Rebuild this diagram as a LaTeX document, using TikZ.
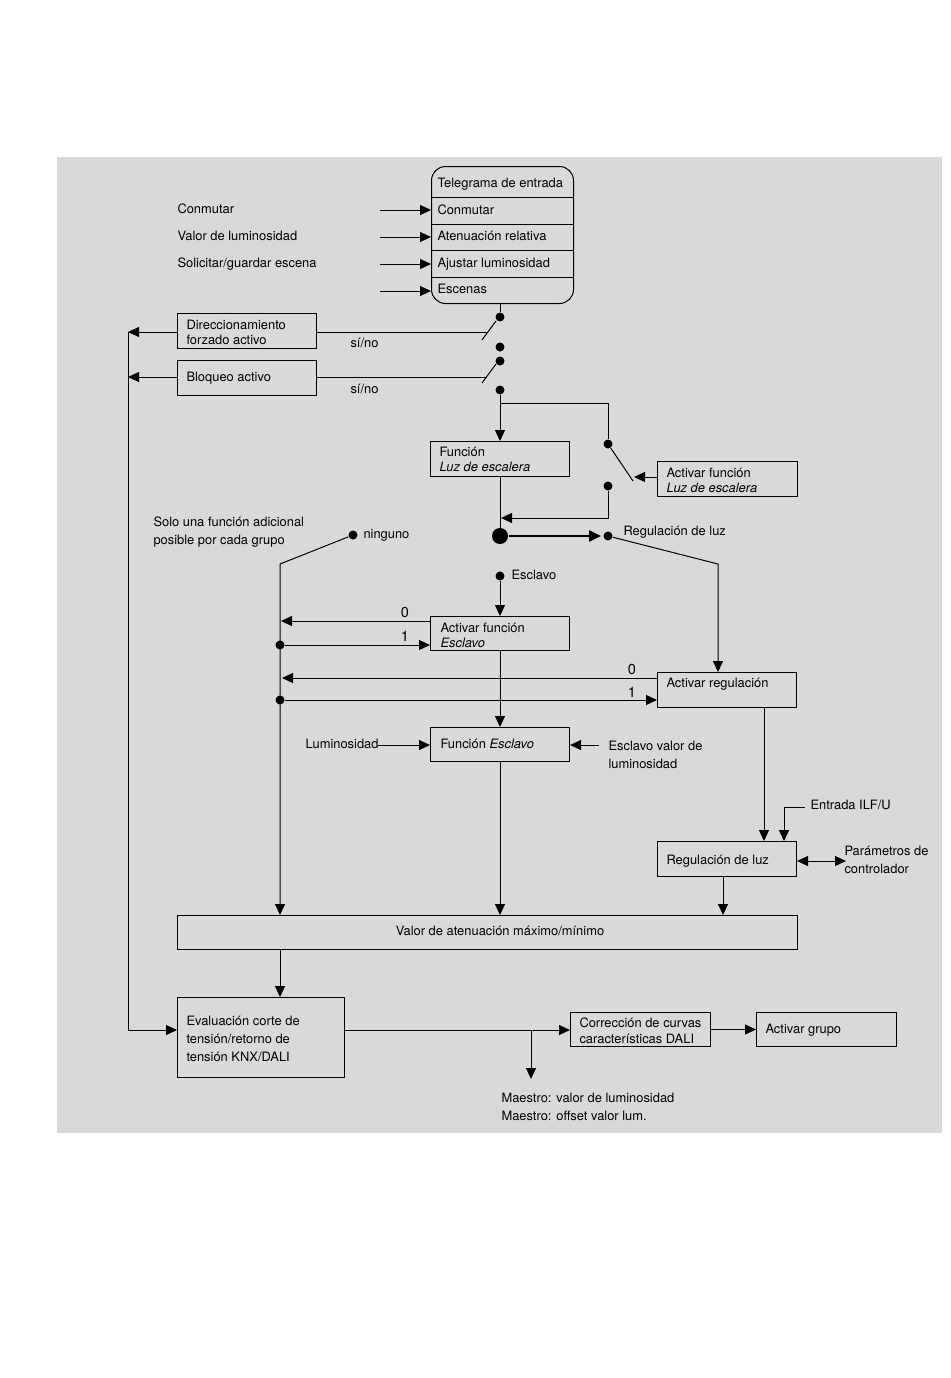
\documentclass[tikz,border=0pt]{standalone}
\usepackage{fontspec}
\setmainfont{TeX Gyre Heros}
\usetikzlibrary{arrows.meta}
\definecolor{bg}{HTML}{D9D9D9}
\newcommand{\fs}[1]{\fontsize{12.9}{#1}\selectfont}
\begin{document}
\begin{tikzpicture}[x=1pt,y=-1pt, line width=1pt,
  every node/.style={inner sep=0pt, font=\fs{15}},
  arr/.style={-{Triangle[length=11pt,width=10pt]}},
  box/.style={draw, anchor=north west, inner sep=0pt, line width=1pt},
  dot/.style={circle, fill, minimum size=9pt, inner sep=0pt},
  lbl/.style={anchor=mid west, yshift=-1.2pt},
  ml/.style={anchor=west, align=left, yshift=-0.8pt},
  num/.style={font=\fontsize{14.5}{16}\selectfont}]
\useasboundingbox (0,0) rectangle (950,1378);
\fill[bg] (57,157) rectangle (942,1133);

% Telegram box
\node[box, rounded corners=14pt, minimum width=142pt, minimum height=137pt] (tel) at (431,166) {};
\draw (431,197) -- (573,197);
\draw (431,224) -- (573,224);
\draw (431,250) -- (573,250);
\draw (431,277) -- (573,277);
\node[lbl] (tt0) at (437,184) {Telegrama de entrada};
\node[lbl] (tt1) at (437,211) {Conmutar};
\node[lbl] (tt2) at (437,237) {Atenuación relativa};
\node[lbl] (tt3) at (437,264) {Ajustar luminosidad};
\node[lbl] (tt4) at (437,290) {Escenas};
\node[lbl] (l1) at (177,210) {Conmutar};
\node[lbl] (l2) at (177,237) {Valor de luminosidad};
\node[lbl] (l3) at (177,264) {Solicitar/guardar escena};
\coordinate (a1) at (380,210);
\coordinate (a2) at (380,237);
\coordinate (a3) at (380,264);
\coordinate (a4) at (380,291);
\draw[arr] (a1) -- (a1 -| tel.west);
\draw[arr] (a2) -- (a2 -| tel.west);
\draw[arr] (a3) -- (a3 -| tel.west);
\draw[arr] (a4) -- (a4 -| tel.west);

% switches
\node[dot] (d1) at (500,317) {};
\node[dot] (d2) at (500,347) {};
\node[dot] (d3) at (500,361) {};
\node[dot] (d4) at (500,390) {};
\draw (tel.south -| d1) -- (d1);
\coordinate (s1a) at (482,340);
\coordinate (s1b) at (496,321);
\coordinate (s2a) at (482,383);
\coordinate (s2b) at (496,364);
\draw (s1a) -- (s1b);
\draw (s2a) -- (s2b);

\node[box, minimum width=139pt, minimum height=35pt] (dir) at (177,313) {};
\node[ml] (dirt) at (186,332) {Direccionamiento\\forzado activo};
\node[box, minimum width=139pt, minimum height=35pt] (blq) at (177,360) {};
\node[lbl] (blqt) at (186,378) {Bloqueo activo};
\coordinate (j1) at (487,332);
\coordinate (j2) at (487,377);
\draw (j1 -| dir.east) -- (j1);
\draw (j2 -| blq.east) -- (j2);
\node[lbl] (sn1) at (350,344) {sí/no};
\node[lbl] (sn2) at (350,390) {sí/no};
\coordinate (L1) at (128,332);
\coordinate (L2) at (128,377);
\coordinate (Lbot) at (128,1030);
\draw[arr] (L1 -| dir.west) -- (L1);
\draw[arr] (L2 -| blq.west) -- (L2);
\draw (L1) -- (Lbot);

% staircase function
\node[box, minimum width=139pt, minimum height=35pt] (fls) at (430,441) {};
\node[ml] (flst) at (439,459) {Función\\\textit{Luz de escalera}};
\draw[arr] (d4) -- (d4 |- fls.north);
\coordinate (br1) at (500,403);
\coordinate (br2) at (608,403);
\node[dot] (e1) at (608,444) {};
\node[dot] (e2) at (608,486) {};
\draw (br1) -- (br2) -- (e1);
\coordinate (e1d) at (633,481);
\draw (e1) -- (e1d);
\node[box, minimum width=140pt, minimum height=35pt] (afe) at (657,461) {};
\node[ml] (afet) at (666,479.5) {Activar función\\\textit{Luz de escalera}};
\coordinate (e1t) at (634,477);
\draw[arr] (e1t -| afe.west) -- (e1t);
\coordinate (e2b) at (608,518);
\coordinate (e2c) at (501,518);
\draw[arr] (e2) -- (e2b) -- (e2c);

\node[dot, minimum size=16pt] (B) at (500,536) {};
\draw (fls.south -| B) -- (B);
\node[dot] (e3) at (608,536) {};
\draw[line width=2.5pt, -{Triangle[length=12pt,width=11pt]}, shorten >=2pt] (B) -- (e3.west);
\node[lbl] (rglt) at (623,532) {Regulación de luz};

% left selector
\node[ml, font=\fs{18}] (sol) at (153,531) {Solo una función adicional\\posible por cada grupo};
\node[dot] (n1) at (353,535) {};
\node[lbl] (n1t) at (363,535) {ninguno};
\coordinate (nk) at (280,564);

% Esclavo
\node[dot] (es) at (500,576) {};
\node[lbl] (est) at (511,576) {Esclavo};
\node[box, minimum width=139pt, minimum height=34pt] (afs) at (430,616) {};
\node[ml] (afst) at (440,634.5) {Activar función\\\textit{Esclavo}};
\draw[arr] (es) -- (es |- afs.north);
\coordinate (z1) at (281,621);
\draw[arr] (z1 -| afs.west) -- (z1);
\node[num] (z1l) at (405,612) {0};
\node[dot] (o1) at (280,645) {};
\draw[arr] (o1) -- (o1 -| afs.west);
\node[num] (o1l) at (405,636) {1};

% Activar regulacion
\node[box, minimum width=139pt, minimum height=35pt] (areg) at (657,672) {};
\node[lbl] (aregt) at (666,684) {Activar regulación};
\coordinate (rk) at (718,564);
\draw[arr] (e3) -- (rk) -- (rk |- areg.north);
\coordinate (z2) at (282,678);
\draw[arr] (z2 -| areg.west) -- (z2);
\node[num] (z2l) at (632,669) {0};
\node[dot] (o2) at (280,700) {};
\draw[arr] (o2) -- (o2 -| areg.west);
\node[num] (o2l) at (632,692) {1};

% Funcion Esclavo
\node[box, minimum width=139pt, minimum height=34pt] (fes) at (430,727) {};
\node[lbl] (fest) at (440,745) {Función \textit{Esclavo}};
\draw[arr] (afs.south) -- (afs.south |- fes.north);
\node[lbl] (lum) at (305,745) {Luminosidad};
\coordinate (lumE) at (378,745);
\draw[arr] (lumE) -- (lumE -| fes.west);
\node[ml, font=\fs{17.5}] (evl) at (608,754) {Esclavo valor de\\luminosidad};
\coordinate (evE) at (599,745);
\draw[arr] (evE) -- (evE -| fes.east);

% Regulacion de luz
\node[box, minimum width=139pt, minimum height=35pt] (rl) at (657,841) {};
\node[lbl] (rlt) at (666,861) {Regulación de luz};
\coordinate (xr) at (764,0);
\draw[arr] (areg.south -| xr) -- (rl.north -| xr);
\node[lbl] (ent) at (810,806) {Entrada ILF/U};
\coordinate (en1) at (805,807);
\coordinate (en2) at (784,807);
\draw[arr] (en1) -- (en2) -- (en2 |- rl.north);
\coordinate (pc) at (846,861);
\draw[{Triangle[length=11pt,width=10pt]}-{Triangle[length=11pt,width=10pt]}] (pc -| rl.east) -- (pc);
\node[ml, font=\fs{18}] (par) at (844,859) {Parámetros de\\controlador};

% Valor
\node[box, minimum width=620pt, minimum height=34pt] (val) at (177,915) {};
\node[anchor=mid, yshift=-1.2pt] (valt) at (500,932) {Valor de atenuación máximo/mínimo};
\draw[arr] (n1) -- (nk) -- (nk |- val.north);
\draw[arr] (fes.south) -- (fes.south |- val.north);
\coordinate (xr2) at (723,0);
\draw[arr] (rl.south -| xr2) -- (val.north -| xr2);

% Evaluacion
\node[box, minimum width=167pt, minimum height=80pt] (ev) at (177,997) {};
\node[ml, font=\fs{18}] (evt) at (186,1038) {Evaluación corte de\\tensión/retorno de\\tensión KNX/DALI};
\draw[arr] (val.south -| nk) -- (ev.north -| nk);
\draw[arr] (Lbot) -- (Lbot -| ev.west);
\node[box, minimum width=140pt, minimum height=34pt] (cor) at (570,1012) {};
\node[ml, font=\fs{16}] (cort) at (579,1030) {Corrección de curvas\\características DALI};
\node[box, minimum width=140pt, minimum height=34pt] (ag) at (756,1012) {};
\node[lbl] (agt) at (765,1030) {Activar grupo};
\coordinate (evx) at (0,1030);
\draw[arr] (evx -| ev.east) -- (evx -| cor.west);
\coordinate (mb) at (531,1030);
\coordinate (mt) at (531,1079);
\draw[arr] (mb) -- (mt);
\node[ml, font=\fs{18}] (mae) at (501,1106) {Maestro: valor de luminosidad\\Maestro: offset valor lum.};
\draw[arr] (cor.east) -- (ag.west);
\end{tikzpicture}
\end{document}
